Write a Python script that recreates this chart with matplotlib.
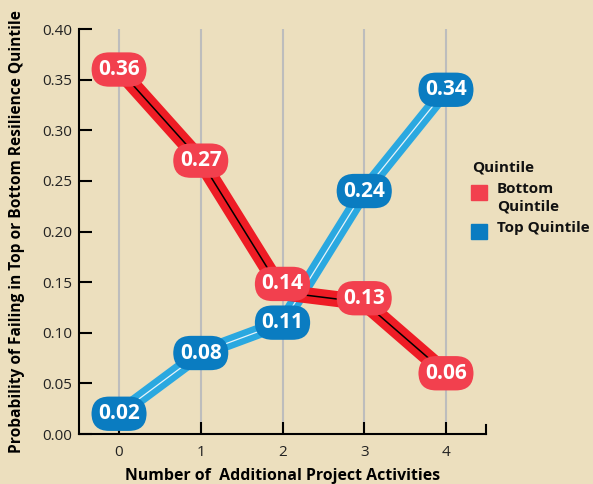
import matplotlib.pyplot as plt
from matplotlib.patches import Rectangle

plt.rcParams['font.family'] = ['Open Sans', 'DejaVu Sans']

activities = [0, 1, 2, 3, 4]
bottom_quintile = [0.36, 0.27, 0.14, 0.13, 0.06]
top_quintile = [0.02, 0.08, 0.11, 0.24, 0.34]
y_ticks = [0.00, 0.05, 0.10, 0.15, 0.20, 0.25, 0.30, 0.35, 0.40]

bg = '#ECDFBE'
red_line = '#EE1C25'
red_box = '#F2404E'
blue_line = '#2AA8E0'
blue_box = '#0A7CC1'

W, H = 593, 484
fig = plt.figure(figsize=(W / 100, H / 100), dpi=100, facecolor=bg)
ax = fig.add_axes([0.1332, 0.1033, 0.6864, 0.8367], facecolor=bg)

# vertical grid at each x tick
for x in activities:
    ax.axvline(x, color='#BDBDBD', lw=1.5, zorder=0)

ax.plot(activities, top_quintile, color=blue_line, lw=10, solid_capstyle='butt', zorder=2)
ax.plot(activities, top_quintile, color='#E8F4FA', lw=0.9, zorder=3)
ax.plot(activities, bottom_quintile, color=red_line, lw=11.5, solid_capstyle='butt', zorder=4)
ax.plot(activities, bottom_quintile, color='black', lw=1.1, zorder=5)

# label nudges (points) so overlapping labels stay readable
nudge_bottom = [0, 0, 6, 3, 0]
nudge_top = [0, 0, 0, 0, 0]

def label(xs, ys, nudges, color, z):
    for x, y, dy in zip(xs, ys, nudges):
        ax.annotate(f'{y:.2f}', (x, y), xytext=(0, dy), textcoords='offset points',
                    ha='center', va='center', color='white', fontsize=15,
                    fontweight='bold', zorder=z,
                    bbox=dict(boxstyle='round,pad=0.32,rounding_size=0.85',
                              fc=color, ec='none'))

label(activities, top_quintile, nudge_top, blue_box, 6)
label(activities, bottom_quintile, nudge_bottom, red_box, 7)

ax.set_xlim(-0.49, 4.49)
ax.set_ylim(0, 0.40)
ax.set_xticks(activities)
ax.set_yticks(y_ticks)
ax.set_yticklabels([f'{v:.2f}' for v in y_ticks])
ax.tick_params(axis='both', direction='in', length=9, width=1.5, labelsize=11,
               color='black', labelcolor='#222222', pad=5)
ax.tick_params(axis='x', pad=8)

for s in ['top', 'right']:
    ax.spines[s].set_visible(False)
for s in ['left', 'bottom']:
    ax.spines[s].set_linewidth(1.5)
# end cap on the x axis
ax.plot([1, 1], [0, 0.022], transform=ax.transAxes,
        color='black', lw=1.5, clip_on=False)

ax.set_xlabel('Number of  Additional Project Activities', fontsize=11.4,
              fontweight='bold', labelpad=6)
ax.set_ylabel('Probability of Failing in Top or Bottom Resilience Quintile',
              fontsize=11.2, fontweight='bold', labelpad=12)

# legend drawn by hand (pixel layout converted to figure fractions)
def fx(px):
    return px / W

def fy(py):
    return 1 - py / H

legend_title = 'Quintile'
legend_labels = ['Bottom\nQuintile', 'Top Quintile']
legend_colors = [red_box, blue_box]
legend_rows = [193, 232]

fig.text(fx(472), fy(167), legend_title, ha='left', va='center',
         fontsize=11, fontweight='bold', color='#111111')
for lab, col, row in zip(legend_labels, legend_colors, legend_rows):
    fig.patches.append(Rectangle((fx(471), fy(row + 7)), 16 / W, 15 / H,
                                 transform=fig.transFigure, color=col))
    fig.text(fx(497), fy(row - 11), lab, ha='left', va='top', fontsize=11,
             fontweight='bold', color='#111111', linespacing=1.3)

fig.savefig('out.png', dpi=100, facecolor=bg)
